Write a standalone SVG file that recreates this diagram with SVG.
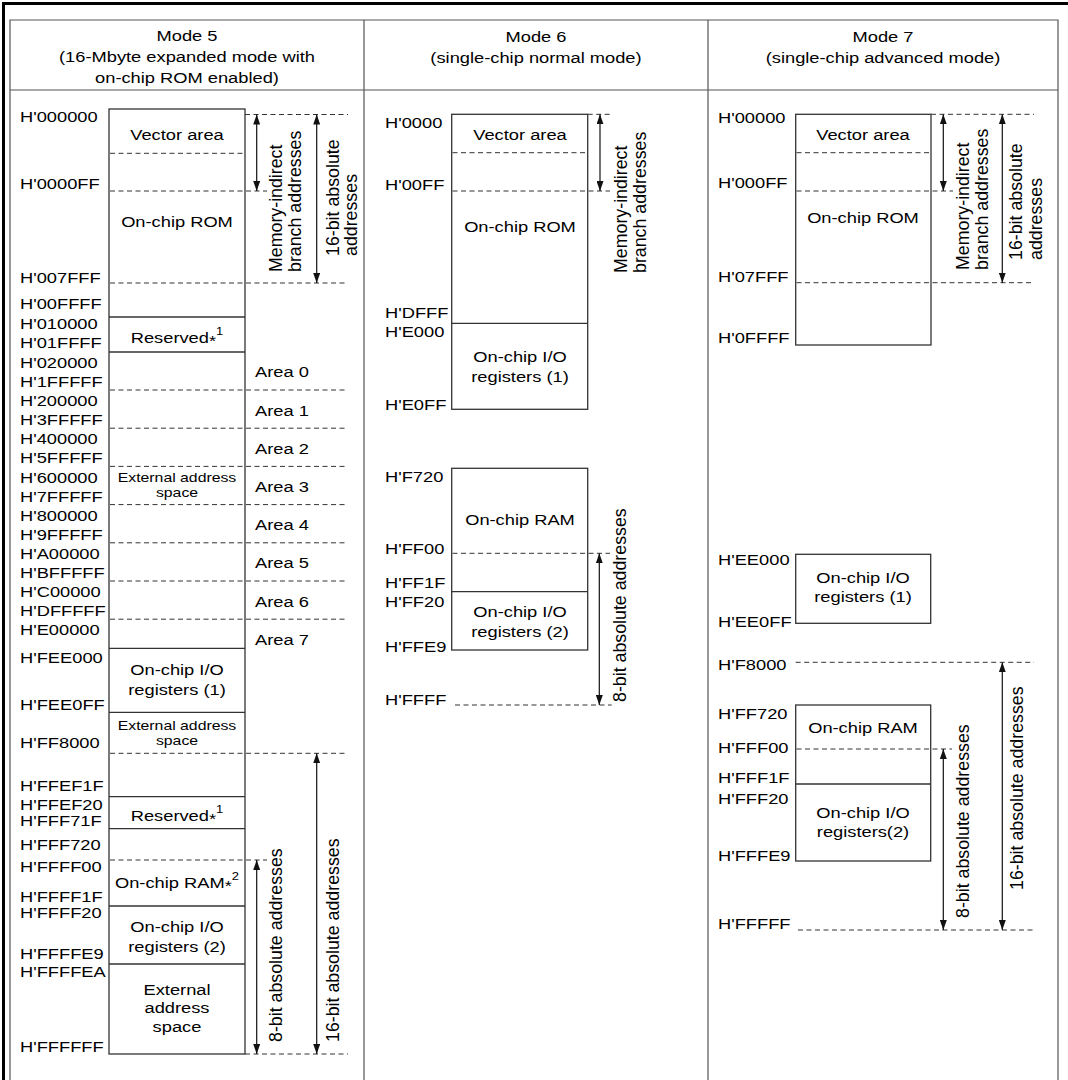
<svg xmlns="http://www.w3.org/2000/svg" width="1068" height="1080" viewBox="0 0 1068 1080">
<style>
text{font-family:"Liberation Sans",Arial,Helvetica,sans-serif;fill:#000}
.t{font-size:15.5px}
.m{font-size:15.5px;text-anchor:middle}
.s{font-size:13.4px;text-anchor:middle}
.r{font-size:17.8px}
.grid{fill:none;stroke:#555;stroke-width:1.2}
.thick{fill:none;stroke:#000;stroke-width:3}
.box{fill:none;stroke:#333;stroke-width:1.3}
.sl{stroke:#333;stroke-width:1.3}
.dl{stroke:#333;stroke-width:1;stroke-dasharray:5 3.5;fill:none}
.ar{stroke:#111;stroke-width:1.2;marker-start:url(#ah);marker-end:url(#ah)}
</style>
<defs>
<marker id="ah" viewBox="0 0 10 7" refX="10" refY="3.5" markerWidth="10" markerHeight="7" markerUnits="userSpaceOnUse" orient="auto-start-reverse"><path d="M0,0L10,3.5L0,7z" fill="#111"/></marker>
</defs>
<rect width="1068" height="1080" fill="#fff"/>

<g id="frame">
<path class="thick" d="M3.5,1080V3.5H1068"/>
<path class="grid" d="M10,1080V20H1058V1080M10,90H1058M364,20V1080M708,20V1080"/>
</g>

<g id="headers">
<g id="h5">
<text class="m" transform="matrix(1.18 0 0 1 187 41)">Mode 5</text>
<text class="m" transform="matrix(1.18 0 0 1 187 62)">(16-Mbyte expanded mode with</text>
<text class="m" transform="matrix(1.18 0 0 1 187 83)">on-chip ROM enabled)</text>
</g>
<g id="h6">
<text class="m" transform="matrix(1.18 0 0 1 536 41.5)">Mode 6</text>
<text class="m" transform="matrix(1.18 0 0 1 536 62.5)">(single-chip normal mode)</text>
</g>
<g id="h7">
<text class="m" transform="matrix(1.18 0 0 1 883 41.5)">Mode 7</text>
<text class="m" transform="matrix(1.18 0 0 1 883 63)">(single-chip advanced mode)</text>
</g>
</g>

<!-- ================= MODE 5 ================= -->
<g id="mode5">
<rect id="m5-map" class="box" x="109" y="109" width="136" height="945"/>
<g id="m5-vector">
<line class="dl" x1="110" y1="153.3" x2="245" y2="153.3"/>
<text class="m" transform="matrix(1.18 0 0 1 177 140)">Vector area</text>
</g>
<g id="m5-rom">
<text class="m" transform="matrix(1.18 0 0 1 177 227)">On-chip ROM</text>
<line class="sl" x1="109" y1="317" x2="245" y2="317"/>
</g>
<g id="m5-res1">
<text class="m" transform="matrix(1.18 0 0 1 177 343.3)">Reserved<tspan dy="3">*</tspan><tspan font-size="11" dy="-11">1</tspan></text>
<line class="sl" x1="109" y1="352" x2="245" y2="352"/>
</g>
<g id="m5-ext1">
<text class="s" transform="matrix(1.18 0 0 1 177 482)">External address</text>
<text class="s" transform="matrix(1.18 0 0 1 177 497.3)">space</text>
<line class="sl" x1="109" y1="648.3" x2="245" y2="648.3"/>
</g>
<g id="m5-areas">
<text class="t" transform="matrix(1.18 0 0 1 255 377.3)">Area 0</text>
<text class="t" transform="matrix(1.18 0 0 1 255 415.5)">Area 1</text>
<text class="t" transform="matrix(1.18 0 0 1 255 453.7)">Area 2</text>
<text class="t" transform="matrix(1.18 0 0 1 255 491.9)">Area 3</text>
<text class="t" transform="matrix(1.18 0 0 1 255 530.1)">Area 4</text>
<text class="t" transform="matrix(1.18 0 0 1 255 568.3)">Area 5</text>
<text class="t" transform="matrix(1.18 0 0 1 255 606.5)">Area 6</text>
<text class="t" transform="matrix(1.18 0 0 1 255 644.7)">Area 7</text>
</g>
<g id="m5-io1">
<text class="m" transform="matrix(1.18 0 0 1 177 675)">On-chip I/O</text>
<text class="m" transform="matrix(1.18 0 0 1 177 695)">registers (1)</text>
<line class="sl" x1="109" y1="712.3" x2="245" y2="712.3"/>
</g>
<g id="m5-ext2">
<text class="s" transform="matrix(1.18 0 0 1 177 730)">External address</text>
<text class="s" transform="matrix(1.18 0 0 1 177 745)">space</text>
<line class="sl" x1="109" y1="796.7" x2="245" y2="796.7"/>
</g>
<g id="m5-res2">
<text class="m" transform="matrix(1.18 0 0 1 177 820.7)">Reserved<tspan dy="3">*</tspan><tspan font-size="11" dy="-11">1</tspan></text>
<line class="sl" x1="109" y1="828.7" x2="245" y2="828.7"/>
</g>
<g id="m5-ram">
<text class="m" transform="matrix(1.18 0 0 1 177 888.3)">On-chip RAM<tspan dy="3">*</tspan><tspan font-size="11" dy="-11">2</tspan></text>
<line class="sl" x1="109" y1="906" x2="245" y2="906"/>
</g>
<g id="m5-io2">
<text class="m" transform="matrix(1.18 0 0 1 177 931.7)">On-chip I/O</text>
<text class="m" transform="matrix(1.18 0 0 1 177 951.7)">registers (2)</text>
<line class="sl" x1="109" y1="964" x2="245" y2="964"/>
</g>
<g id="m5-ext3">
<text class="m" transform="matrix(1.18 0 0 1 177 995)">External</text>
<text class="m" transform="matrix(1.18 0 0 1 177 1013.3)">address</text>
<text class="m" transform="matrix(1.18 0 0 1 177 1031.7)">space</text>
</g>
<g id="m5-labels">
<text class="t" transform="matrix(1.18 0 0 1 20 122)">H'000000</text>
<text class="t" transform="matrix(1.18 0 0 1 20 189)">H'0000FF</text>
<text class="t" transform="matrix(1.18 0 0 1 20 283)">H'007FFF</text>
<text class="t" transform="matrix(1.18 0 0 1 20 309)">H'00FFFF</text>
<text class="t" transform="matrix(1.18 0 0 1 20 329)">H'010000</text>
<text class="t" transform="matrix(1.18 0 0 1 20 348)">H'01FFFF</text>
<text class="t" transform="matrix(1.18 0 0 1 20 368)">H'020000</text>
<text class="t" transform="matrix(1.18 0 0 1 20 387)">H'1FFFFF</text>
<text class="t" transform="matrix(1.18 0 0 1 20 406.2)">H'200000</text>
<text class="t" transform="matrix(1.18 0 0 1 20 425.2)">H'3FFFFF</text>
<text class="t" transform="matrix(1.18 0 0 1 20 444.4)">H'400000</text>
<text class="t" transform="matrix(1.18 0 0 1 20 463.4)">H'5FFFFF</text>
<text class="t" transform="matrix(1.18 0 0 1 20 482.6)">H'600000</text>
<text class="t" transform="matrix(1.18 0 0 1 20 501.6)">H'7FFFFF</text>
<text class="t" transform="matrix(1.18 0 0 1 20 520.8)">H'800000</text>
<text class="t" transform="matrix(1.18 0 0 1 20 539.8)">H'9FFFFF</text>
<text class="t" transform="matrix(1.18 0 0 1 20 559)">H'A00000</text>
<text class="t" transform="matrix(1.18 0 0 1 20 578)">H'BFFFFF</text>
<text class="t" transform="matrix(1.18 0 0 1 20 597.2)">H'C00000</text>
<text class="t" transform="matrix(1.18 0 0 1 20 616.2)">H'DFFFFF</text>
<text class="t" transform="matrix(1.18 0 0 1 20 635.4)">H'E00000</text>
<text class="t" transform="matrix(1.18 0 0 1 20 663.3)">H'FEE000</text>
<text class="t" transform="matrix(1.18 0 0 1 20 710)">H'FEE0FF</text>
<text class="t" transform="matrix(1.18 0 0 1 20 748.3)">H'FF8000</text>
<text class="t" transform="matrix(1.18 0 0 1 20 790.7)">H'FFEF1F</text>
<text class="t" transform="matrix(1.18 0 0 1 20 810)">H'FFEF20</text>
<text class="t" transform="matrix(1.18 0 0 1 20 826)">H'FFF71F</text>
<text class="t" transform="matrix(1.18 0 0 1 20 850)">H'FFF720</text>
<text class="t" transform="matrix(1.18 0 0 1 20 871.7)">H'FFFF00</text>
<text class="t" transform="matrix(1.18 0 0 1 20 901.7)">H'FFFF1F</text>
<text class="t" transform="matrix(1.18 0 0 1 20 918.3)">H'FFFF20</text>
<text class="t" transform="matrix(1.18 0 0 1 20 959.3)">H'FFFFE9</text>
<text class="t" transform="matrix(1.18 0 0 1 20 976.7)">H'FFFFEA</text>
<text class="t" transform="matrix(1.18 0 0 1 20 1051.7)">H'FFFFFF</text>
</g>
<g id="m5-rot">
<text class="r" transform="translate(282,272) rotate(-90)">Memory-indirect</text>
<text class="r" transform="translate(301,272) rotate(-90)">branch addresses</text>
<text class="r" transform="translate(338.5,256) rotate(-90)">16-bit absolute</text>
<text class="r" transform="translate(356.5,256) rotate(-90)">addresses</text>
<text class="r" transform="translate(282,1042) rotate(-90)">8-bit absolute addresses</text>
<text class="r" transform="translate(339,1042) rotate(-90)">16-bit absolute addresses</text>
</g>
</g>

<!-- ================= MODE 6 ================= -->
<g id="mode6">
<g id="m6-rom">
<rect class="box" x="451.7" y="114.3" width="136" height="295"/>
<line class="dl" x1="452.5" y1="152.7" x2="587.7" y2="152.7"/>
<text class="m" transform="matrix(1.18 0 0 1 520 140)">Vector area</text>
<text class="m" transform="matrix(1.18 0 0 1 520 231.7)">On-chip ROM</text>
<line class="sl" x1="451.7" y1="323.3" x2="587.7" y2="323.3"/>
</g>
<g id="m6-io1">
<text class="m" transform="matrix(1.18 0 0 1 520 361.7)">On-chip I/O</text>
<text class="m" transform="matrix(1.18 0 0 1 520 381.7)">registers (1)</text>
</g>
<g id="m6-ram">
<rect class="box" x="451.7" y="468.3" width="136" height="181.7"/>
<text class="m" transform="matrix(1.18 0 0 1 520 525)">On-chip RAM</text>
<line class="sl" x1="451.7" y1="591.7" x2="587.7" y2="591.7"/>
</g>
<g id="m6-io2">
<text class="m" transform="matrix(1.18 0 0 1 520 616.7)">On-chip I/O</text>
<text class="m" transform="matrix(1.18 0 0 1 520 636.7)">registers (2)</text>
</g>
<g id="m6-labels">
<text class="t" transform="matrix(1.18 0 0 1 385 127.7)">H'0000</text>
<text class="t" transform="matrix(1.18 0 0 1 385 190)">H'00FF</text>
<text class="t" transform="matrix(1.18 0 0 1 385 318.3)">H'DFFF</text>
<text class="t" transform="matrix(1.18 0 0 1 385 337.3)">H'E000</text>
<text class="t" transform="matrix(1.18 0 0 1 385 410)">H'E0FF</text>
<text class="t" transform="matrix(1.18 0 0 1 385 481.7)">H'F720</text>
<text class="t" transform="matrix(1.18 0 0 1 385 554)">H'FF00</text>
<text class="t" transform="matrix(1.18 0 0 1 385 588.3)">H'FF1F</text>
<text class="t" transform="matrix(1.18 0 0 1 385 606.7)">H'FF20</text>
<text class="t" transform="matrix(1.18 0 0 1 385 651.7)">H'FFE9</text>
<text class="t" transform="matrix(1.18 0 0 1 385 705)">H'FFFF</text>
</g>
<g id="m6-rot">
<text class="r" transform="translate(627,273) rotate(-90)">Memory-indirect</text>
<text class="r" transform="translate(646,273) rotate(-90)">branch addresses</text>
<text class="r" transform="translate(626,702) rotate(-90)">8-bit absolute addresses</text>
</g>
</g>

<!-- ================= MODE 7 ================= -->
<g id="mode7">
<g id="m7-rom">
<rect class="box" x="795.7" y="114.3" width="135.3" height="230.7"/>
<line class="dl" x1="796.5" y1="152.7" x2="931" y2="152.7"/>
<text class="m" transform="matrix(1.18 0 0 1 863 140)">Vector area</text>
<text class="m" transform="matrix(1.18 0 0 1 863 222.7)">On-chip ROM</text>
</g>
<g id="m7-io1">
<rect class="box" x="795.7" y="554.3" width="135" height="69"/>
<text class="m" transform="matrix(1.18 0 0 1 863 582.7)">On-chip I/O</text>
<text class="m" transform="matrix(1.18 0 0 1 863 601.7)">registers (1)</text>
</g>
<g id="m7-ram">
<rect class="box" x="795.7" y="705" width="135" height="156"/>
<text class="m" transform="matrix(1.18 0 0 1 863 733.3)">On-chip RAM</text>
<line class="sl" x1="795.7" y1="784" x2="930.7" y2="784"/>
</g>
<g id="m7-io2">
<text class="m" transform="matrix(1.18 0 0 1 863 818.3)">On-chip I/O</text>
<text class="m" transform="matrix(1.18 0 0 1 863 836.7)">registers(2)</text>
</g>
<g id="m7-labels">
<text class="t" transform="matrix(1.18 0 0 1 718 123.3)">H'00000</text>
<text class="t" transform="matrix(1.18 0 0 1 718 188.3)">H'000FF</text>
<text class="t" transform="matrix(1.18 0 0 1 718 281.7)">H'07FFF</text>
<text class="t" transform="matrix(1.18 0 0 1 718 343.3)">H'0FFFF</text>
<text class="t" transform="matrix(1.18 0 0 1 718 565)">H'EE000</text>
<text class="t" transform="matrix(1.18 0 0 1 718 626.7)">H'EE0FF</text>
<text class="t" transform="matrix(1.18 0 0 1 718 670)">H'F8000</text>
<text class="t" transform="matrix(1.18 0 0 1 718 719.3)">H'FF720</text>
<text class="t" transform="matrix(1.18 0 0 1 718 753.3)">H'FFF00</text>
<text class="t" transform="matrix(1.18 0 0 1 718 782.7)">H'FFF1F</text>
<text class="t" transform="matrix(1.18 0 0 1 718 804)">H'FFF20</text>
<text class="t" transform="matrix(1.18 0 0 1 718 860.7)">H'FFFE9</text>
<text class="t" transform="matrix(1.18 0 0 1 718 929.3)">H'FFFFF</text>
</g>
<g id="m7-rot">
<text class="r" transform="translate(969,270) rotate(-90)">Memory-indirect</text>
<text class="r" transform="translate(988,270) rotate(-90)">branch addresses</text>
<text class="r" transform="translate(1021.5,260) rotate(-90)">16-bit absolute</text>
<text class="r" transform="translate(1041.5,260) rotate(-90)">addresses</text>
<text class="r" transform="translate(969,918) rotate(-90)">8-bit absolute addresses</text>
<text class="r" transform="translate(1023,890) rotate(-90)">16-bit absolute addresses</text>
</g>
</g>

<!-- ================= CONNECTORS ================= -->
<g id="connectors">
<line class="dl" x1="245" y1="114.5" x2="348" y2="114.5"/>
<line class="dl" x1="110" y1="191" x2="267" y2="191"/>
<line class="dl" x1="110" y1="283" x2="348" y2="283"/>
<line class="dl" x1="110" y1="390" x2="348" y2="390"/>
<line class="dl" x1="110" y1="428.2" x2="348" y2="428.2"/>
<line class="dl" x1="110" y1="466.4" x2="348" y2="466.4"/>
<line class="dl" x1="110" y1="504.6" x2="348" y2="504.6"/>
<line class="dl" x1="110" y1="542.8" x2="348" y2="542.8"/>
<line class="dl" x1="110" y1="581" x2="348" y2="581"/>
<line class="dl" x1="110" y1="619.2" x2="348" y2="619.2"/>
<line class="dl" x1="110" y1="753.3" x2="348" y2="753.3"/>
<line class="dl" x1="110" y1="860" x2="267" y2="860"/>
<line class="dl" x1="245" y1="1054" x2="348" y2="1054"/>
<line class="ar" x1="256.7" y1="114.5" x2="256.7" y2="191"/>
<line class="ar" x1="316.7" y1="114.5" x2="316.7" y2="283"/>
<line class="ar" x1="316.7" y1="753.3" x2="316.7" y2="1054"/>
<line class="ar" x1="256.7" y1="860" x2="256.7" y2="1054"/>
<line class="dl" x1="587.7" y1="114.3" x2="610" y2="114.3"/>
<line class="dl" x1="452.5" y1="191" x2="610" y2="191"/>
<line class="dl" x1="452.5" y1="553.3" x2="610" y2="553.3"/>
<line class="dl" x1="455" y1="705" x2="611.7" y2="705"/>
<line class="ar" x1="600" y1="114.3" x2="600" y2="191"/>
<line class="ar" x1="599.3" y1="553.3" x2="599.3" y2="705"/>
<line class="dl" x1="931" y1="114.3" x2="1034" y2="114.3"/>
<line class="dl" x1="796.5" y1="191" x2="953" y2="191"/>
<line class="dl" x1="796.5" y1="282.7" x2="1034" y2="282.7"/>
<line class="dl" x1="795.7" y1="662.3" x2="1034" y2="662.3"/>
<line class="dl" x1="796.5" y1="749" x2="952" y2="749"/>
<line class="dl" x1="798" y1="930" x2="1034" y2="930"/>
<line class="ar" x1="943.3" y1="114.3" x2="943.3" y2="191"/>
<line class="ar" x1="1002.3" y1="114.3" x2="1002.3" y2="282.7"/>
<line class="ar" x1="943.3" y1="749" x2="943.3" y2="930"/>
<line class="ar" x1="1002.3" y1="662.3" x2="1002.3" y2="930"/>
</g>
</svg>
